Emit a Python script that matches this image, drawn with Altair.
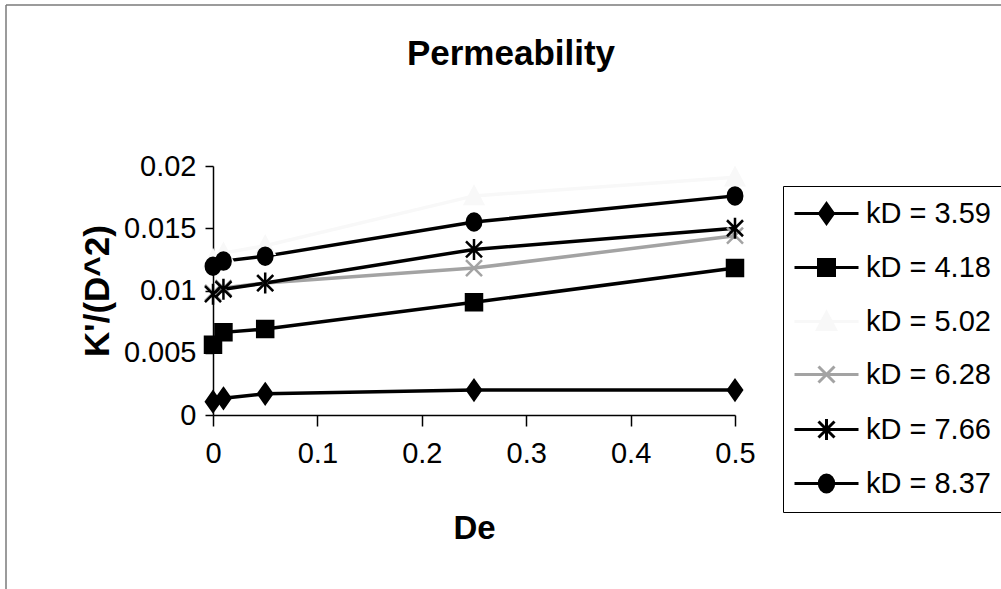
import altair as alt
import pandas as pd

# ---- data ----
de_values = [0, 0.01, 0.05, 0.25, 0.5]
series_names = ["kD = 3.59", "kD = 4.18", "kD = 5.02", "kD = 6.28", "kD = 7.66", "kD = 8.37"]
kd_359 = [0.00107, 0.00134, 0.0017, 0.0020, 0.0020]
kd_418 = [0.00564, 0.00664, 0.0069, 0.00905, 0.0118]
kd_502 = [0.0125, 0.0130, 0.0136, 0.0176, 0.0191]
kd_628 = [0.0098, 0.0102, 0.0106, 0.0118, 0.0144]
kd_766 = [0.0097, 0.0101, 0.0106, 0.0133, 0.0150]
kd_837 = [0.01195, 0.01236, 0.01276, 0.0155, 0.0176]
y_ticks = [0, 0.005, 0.01, 0.015, 0.02]
x_ticks = [0, 0.1, 0.2, 0.3, 0.4, 0.5]

series_values = [kd_359, kd_418, kd_502, kd_628, kd_766, kd_837]
series_colors = ["#000000", "#000000", "#f8f8f8", "#a3a3a3", "#000000", "#000000"]

# marker paths (unit square -1..1)
diamond = "M0,-1L0.7,0L0,1L-0.7,0Z"
square = "M-0.8,-0.8H0.8V0.8H-0.8Z"
triangle = "M0,-0.9L0.9,0.8L-0.9,0.8Z"
xmark = "M-0.8,-0.8L0.8,0.8M-0.8,0.8L0.8,-0.8"
star = "M-0.8,-0.8L0.8,0.8M-0.8,0.8L0.8,-0.8M0,-1.05L0,1.05"
circle = "M0,-0.85A0.72,0.85 0 1,1 0,0.85A0.72,0.85 0 1,1 0,-0.85Z"
marker_paths = [diamond, square, triangle, xmark, star, circle]
legend_line = "M-3.2,0H3.2"
legend_paths = [legend_line + p for p in marker_paths]

rows = []
for name, vals in zip(series_names, series_values):
    for x, y in zip(de_values, vals):
        rows.append({"De": x, "val": y, "kD": name})
df = pd.DataFrame(rows)

FONT = "Liberation Sans, Arial, sans-serif"

x_enc = alt.X("De:Q", scale=alt.Scale(domain=[0, 0.5], nice=False),
              axis=alt.Axis(values=x_ticks, format="~g", labelFontSize=29, tickSize=11,
                            labelPadding=13, labelFlush=False, title="De", titleFontSize=33,
                            titleFontWeight="bold", titlePadding=44))
y_enc = alt.Y("val:Q", scale=alt.Scale(domain=[0, 0.02], nice=False),
              axis=alt.Axis(values=y_ticks, format="~g", labelFontSize=29, tickSize=8,
                            labelPadding=9, labelFlush=False, title="K'/(D^2)",
                            titleFontSize=35, titleFontWeight="bold", titleAngle=270,
                            titleX=-116, titleY=124.5, titleAlign="center",
                            titleBaseline="middle"))

col_scale = alt.Scale(domain=series_names, range=series_colors)

lines = alt.Chart(df).mark_line(strokeWidth=3.5).encode(
    x=x_enc, y=y_enc,
    color=alt.Color("kD:N", scale=col_scale, legend=None),
    order=alt.Order("De:Q"),
)

points = alt.Chart(df).mark_point(filled=True, size=400, strokeWidth=2.5, opacity=1).encode(
    x="De:Q", y="val:Q",
    fill=alt.Fill("kD:N", scale=col_scale, legend=None),
    stroke=alt.Stroke("kD:N", scale=col_scale, legend=None),
    shape=alt.Shape("kD:N", scale=alt.Scale(domain=series_names, range=marker_paths), legend=None),
)

leg = alt.Legend(
    title=None, orient="none", legendX=570, legendY=20,
    strokeColor="#000000", fillColor="#ffffff", padding=13,
    labelFontSize=29, labelFont=FONT, labelColor="#000000",
    symbolSize=400, symbolStrokeWidth=3, symbolOffset=16, labelOffset=25,
    rowPadding=23, labelLimit=400,
)

legend_layer = alt.Chart(df).mark_point(filled=True, size=400, strokeWidth=3, opacity=1).encode(
    x="De:Q", y="val:Q",
    fill=alt.Fill("kD:N", scale=col_scale, legend=leg),
    stroke=alt.Stroke("kD:N", scale=col_scale, legend=leg),
    shape=alt.Shape("kD:N", scale=alt.Scale(domain=series_names, range=legend_paths), legend=leg),
).transform_filter("datum.De < -1")

frame_top = alt.Chart(alt.Data(values=[{}])).mark_rule(color="#7a7a7a", strokeWidth=1.5).encode(
    x=alt.value(-207), x2=alt.value(1001 - 213), y=alt.value(-161))
frame_left = alt.Chart(alt.Data(values=[{}])).mark_rule(color="#7a7a7a", strokeWidth=1.5).encode(
    x=alt.value(-207), y=alt.value(-161), y2=alt.value(589 - 166 + 5))

chart = alt.layer(frame_top, frame_left, lines, points, legend_layer).resolve_scale(
    shape="independent", fill="independent", stroke="independent"
).properties(
    width=522, height=249,
    title=alt.TitleParams("Permeability", fontSize=35, fontWeight="bold", anchor="middle",
                          frame="group", dx=37, offset=-96, baseline="alphabetic",
                          font=FONT, color="#000000"),
    autosize=alt.AutoSizeParams(type="none"),
    padding={"left": 213, "top": 166, "right": 266, "bottom": 174},
).configure(font=FONT).configure_view(stroke=None).configure_axis(
    grid=False, domainColor="#000000", tickColor="#000000", labelColor="#000000",
    titleColor="#000000", labelFont=FONT, titleFont=FONT, domainWidth=1.5, tickWidth=1.5,
)

chart.save("out.html", embed_options={"renderer": "svg", "actions": False})
